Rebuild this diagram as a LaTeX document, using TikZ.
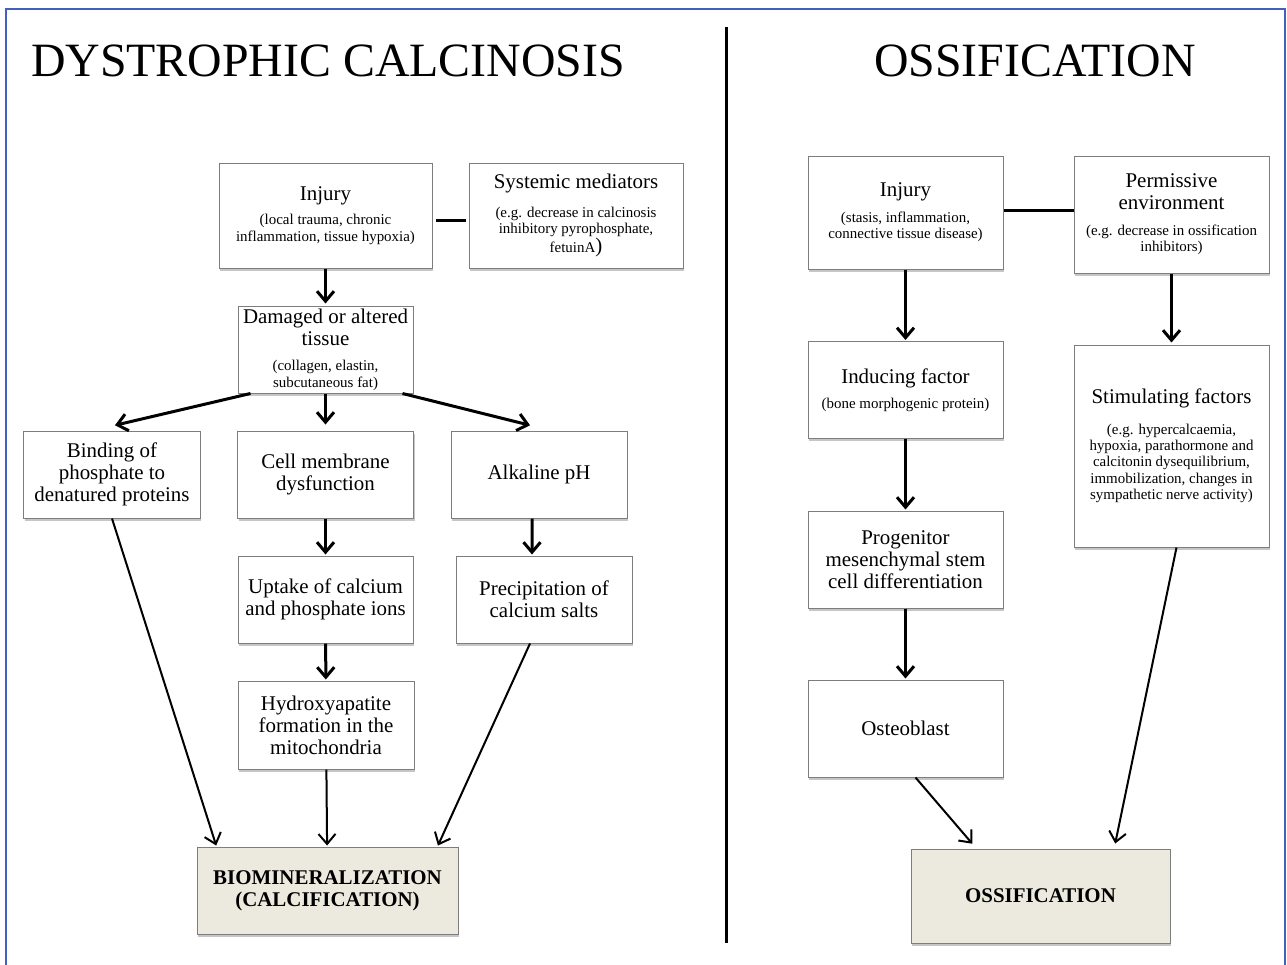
\documentclass[tikz,border=0pt]{standalone}
\usepackage{fontspec}
\setmainfont{Liberation Serif}
\usetikzlibrary{arrows.meta,shadows}
\definecolor{framecol}{RGB}{66,96,188}
\definecolor{boxline}{RGB}{125,125,125}
\definecolor{endfill}{RGB}{236,234,223}
\newcommand{\detail}[2][9bp]{\par\vspace{#1}{\fontsize{15}{16.5}\selectfont #2\par}}

\begin{document}
\begin{tikzpicture}[x=1bp,
					y=-1bp,
					box/.style={draw=boxline, line width=1bp, fill=white, align=flush center,
						inner sep=0pt, minimum width=#1, text width=#1,
						font=\fontsize{21}{22}\selectfont,
						drop shadow={shadow xshift=1bp, shadow yshift=-2.5bp, opacity=.45}},
					end box/.style={box=#1, fill=endfill, font=\fontsize{21}{22}\selectfont\bfseries},
					title/.style={anchor=base, font=\fontsize{48}{52}\selectfont},
					flow/.style={-{Straight Barb[length=10bp,width=17bp]}, line width=3bp, shorten >=1bp},
					longflow/.style={flow, line width=2bp},
					link/.style={line width=3bp}]

  \useasboundingbox (0,0) rectangle (1287,965);
  \draw[framecol, line width=1.5bp] (6,970) |- (1285,9) -- (1285,970);
  \draw[line width=3bp] (726,27) -- (726,943);

  % dystrophic calcinosis
  \node[title] (ttlL) at (328,76) {DYSTROPHIC CALCINOSIS};
  \node[box=213bp, minimum height=105bp] (injL) at (325.5,215.5)
    {Injury\detail[8bp]{(local trauma, chronic\\ inflammation, tissue hypoxia)}};
  \node[box=214bp, minimum height=105bp] (sys) at (576,215.5)
    {Systemic mediators\detail[12bp]{(e.g. decrease in calcinosis\\ inhibitory pyrophosphate,\\ fetuinA{\fontsize{21}{22}\selectfont)}}};
  \node[box=175bp, minimum height=87bp] (dam) at (325.5,349.5)
    {Damaged or altered\\ tissue\detail{(collagen, elastin,\\ subcutaneous fat)}};
  \node[box=176bp, minimum height=87bp] (bind) at (112,474.5) {Binding of\\ phosphate to\\ denatured proteins};
  \node[box=176bp, minimum height=87bp] (cell) at (325.5,474.5) {Cell membrane\\ dysfunction};
  \node[box=176bp, minimum height=87bp] (alk) at (539,474.5) {Alkaline pH};
  \node[box=175bp, minimum height=87bp] (upt) at (325.5,599.5) {Uptake of calcium\\ and phosphate ions};
  \node[box=176bp, minimum height=87bp] (prec) at (544,599.5) {Precipitation of\\ calcium salts};
  \node[box=176bp, minimum height=88bp] (hyd) at (326,725) {Hydroxyapatite\\ formation in the\\ mitochondria};
  \node[end box=261bp, minimum height=87bp] (bio) at (327.5,890.5) {BIOMINERALIZATION\\ (CALCIFICATION)};

  % ossification
  \node[title] (ttlR) at (1035,76) {OSSIFICATION};
  \node[box=195bp, minimum height=113bp] (injR) at (905.5,212.5)
    {Injury\detail{(stasis, inflammation,\\ connective tissue disease)}};
  \node[box=195bp, minimum height=117bp] (perm) at (1171.5,214.5)
    {Permissive\\ environment\detail{(e.g. decrease in ossification\\ inhibitors)}};
  \node[box=195bp, minimum height=97bp] (ind) at (905.5,390) {Inducing factor\detail{(bone morphogenic protein)}};
  \node[box=195bp, minimum height=202bp] (stim) at (1171.5,446)
    {Stimulating factors\detail[14bp]{(e.g. hypercalcaemia,\\ hypoxia, parathormone and\\ calcitonin dysequilibrium,\\ immobilization, changes in\\ sympathetic nerve activity)}};
  \node[box=195bp, minimum height=97bp] (prog) at (905.5,559.5) {Progenitor\\ mesenchymal stem\\ cell differentiation};
  \node[box=195bp, minimum height=97bp] (ost) at (905.5,728.5) {Osteoblast};
  \node[end box=259bp, minimum height=94bp] (oss) at (1040.5,896) {OSSIFICATION};

  \path[link]
    ([yshift=-4.5bp]injL.east) edge[shorten <=3bp, shorten >=3bp] ([yshift=-4.5bp]sys.west)
    ([yshift=2.5bp]injR.east) edge ([yshift=2.5bp]injR.east -| perm.west);

  \path[flow]
    (injL) edge[shorten >=2bp] (dam)
    ([xshift=-75bp]dam.south) edge ([xshift=2bp,yshift=5bp]bind.north)
    (dam) edge[shorten >=6bp] (cell)
    ([xshift=77bp]dam.south) edge ([xshift=-8bp,yshift=5bp]alk.north)
    (cell) edge (upt)
    ([xshift=-7bp]alk.south) edge ([xshift=-12bp]prec.north)
    (upt) edge (hyd)
    (injR) edge (ind)
    (ind) edge (prog)
    (prog) edge (ost)
    (perm) edge[shorten >=2bp] (stim);

  \path[longflow]
    (bind.south) edge ([xshift=-111bp]bio.north)
    (hyd) edge (bio)
    ([xshift=-14bp]prec.south) edge ([xshift=110bp]bio.north)
    ([xshift=10bp]ost.south) edge ([xshift=-67.5bp,yshift=4bp]oss.north)
    ([xshift=5bp]stim.south) edge ([xshift=74.5bp,yshift=4bp]oss.north);
\end{tikzpicture}
\end{document}
